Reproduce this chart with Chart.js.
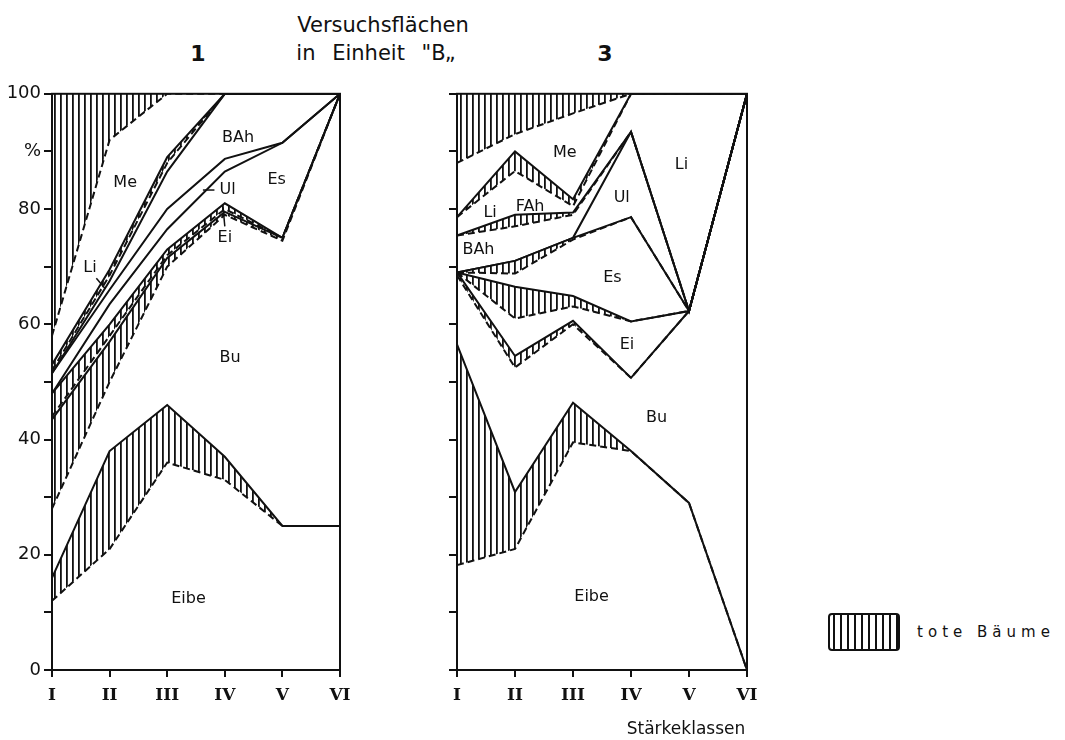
<!DOCTYPE html>
<html>
<head>
<meta charset="utf-8">
<script src="https://cdn.jsdelivr.net/npm/chart.js@4.4.1/dist/chart.umd.min.js"></script>
<style>
  html, body { margin: 0; padding: 0; background: #fff; }
  #page { position: relative; width: 1065px; height: 740px; overflow: hidden; font-family: "DejaVu Sans", sans-serif; color: #111; }
  canvas { position: absolute; }
  .txt { position: absolute; transform: translate(-50%, -50%); white-space: nowrap; }
  .legend-box { position: absolute; left: 828px; top: 613px; width: 68px; height: 34px; border: 2px solid #111; border-radius: 4px;
    background: repeating-linear-gradient(90deg, #111 0 2px, #fff 2px 7px); background-position: 3px 0; }
</style>
</head>
<body>
<div id="page">
  <div class="txt" style="left:383px; top:25px; font-size:21px;">Versuchsflächen</div>
  <div class="txt" style="left:198px; top:53px; font-size:22px; font-weight:bold;">1</div>
  <div class="txt" style="left:376px; top:53px; font-size:21px; word-spacing:10px;">in Einheit "B„</div>
  <div class="txt" style="left:605px; top:53px; font-size:22px; font-weight:bold;">3</div>
  <canvas id="panel1" width="360" height="645" style="left:0; top:80px;"></canvas>
  <canvas id="panel3" width="370" height="645" style="left:400px; top:80px;"></canvas>
  <div class="txt" style="left:686px; top:728px; font-size:17px;">Stärkeklassen</div>
  <div class="legend-box"></div>
  <div class="txt" style="left:986px; top:632px; font-size:15px; letter-spacing:5px;">tote Bäume</div>
</div>
<script>
const INK = '#111111';
const ROMAN = ['I', 'II', 'III', 'IV', 'V', 'VI'];
const TOP = [100, 100, 100, 100, 100, 100];

// Versuchsfläche 1, cumulative % (bottom to top)
const p1EibeAlive = [12, 21, 36, 33, 25, 25];
const p1EibeDead = [16, 38, 46, 37, 25, 25];
const p1BuAlive = [28, 50, 70, 79, 74.5, 100];
const p1BuDead = [43.5, 57, 71.5, 79.5, 75, 100];
const p1EiAlive = [44, 58, 72, 80, 75, 100];
const p1EiDead = [48, 60, 73, 81, 75, 100];
const p1Es = [48, 63.5, 76.5, 86.5, 91.5, 100];
const p1Ul = [51.5, 66, 80, 88.7, 91.5, 100];
const p1BAh = [51.5, 67.5, 86.5, 100, 100, 100];
const p1LiAlive = [52, 68.5, 88, 100, 100, 100];
const p1LiDead = [53, 69.5, 89, 100, 100, 100];
const p1MeAlive = [58, 92, 100, 100, 100, 100];

// Versuchsfläche 3, cumulative % (bottom to top)
const p3EibeAlive = [18.2, 21, 39.5, 38, 29, 0];
const p3EibeDead = [56.5, 30.9, 46.4, 38, 29, 0];
const p3BuAlive = [68.5, 52.5, 60, 50.7, 62.3, 100];
const p3BuDead = [69, 54.5, 60.6, 50.7, 62.3, 100];
const p3EiAlive = [69, 61, 63.1, 60.5, 62.3, 100];
const p3EiDead = [69, 66.5, 64.9, 60.5, 62.3, 100];
const p3EsAlive = [69, 68.8, 74.7, 78.6, 62.3, 100];
const p3EsDead = [69, 71, 75, 78.6, 62.3, 100];
const p3Ul = [69, 71, 75, 93.4, 62.3, 100];
const p3BAhAlive = [75.4, 77, 79, 93.4, 62.3, 100];
const p3BAhDead = [75.4, 79, 79.4, 93.4, 62.3, 100];
const p3Li = [78.6, 82, 80, 100, 100, 100];
const p3FAhAlive = [78.6, 86.6, 80.5, 100, 100, 100];
const p3FAhDead = [78.6, 90, 81.7, 100, 100, 100];
const p3MeAlive = [88, 93, 96.6, 100, 100, 100];

// region names: [text, class position, %]
const p1Labels = [
  ['Me', 1.27, 84.5], ['Li', 0.66, 69.8], ['BAh', 3.23, 92.3], ['Ul', 3.05, 83.3],
  ['Ei', 3.0, 75], ['Es', 3.9, 85], ['Bu', 3.09, 54.2], ['Eibe', 2.37, 12.4]
];
const p1Leaders = [
  [[0.77, 68], [0.92, 66.2]], [[2.62, 83.3], [2.82, 83.3]], [[3.0, 77], [2.97, 80.3]]
];
const p3Labels = [
  ['Me', 1.86, 89.7], ['Li', 0.57, 79.3], ['FAh', 1.26, 80.4], ['BAh', 0.37, 72.9],
  ['Ul', 2.84, 81.9], ['Li', 3.87, 87.7], ['Es', 2.68, 68], ['Ei', 2.93, 56.5],
  ['Bu', 3.44, 43.8], ['Eibe', 2.32, 12.7]
];

function makeHatch() {
  const c = document.createElement('canvas');
  c.width = 6; c.height = 6;
  const g = c.getContext('2d');
  g.fillStyle = '#ffffff';
  g.fillRect(0, 0, 6, 6);
  g.fillStyle = INK;
  g.fillRect(0, 0, 1.8, 6);
  return g.createPattern(c, 'repeat');
}
const hatch = makeHatch();

function ds(data, line, dead) {
  return {
    data,
    borderColor: line === 'none' ? 'rgba(0,0,0,0)' : INK,
    borderWidth: 2,
    borderDash: line === 'dash' ? [7, 4] : [],
    backgroundColor: dead ? hatch : 'rgba(0,0,0,0)',
    fill: dead ? '-1' : false,
    pointRadius: 0,
    tension: 0
  };
}

const regionPlugin = {
  id: 'regionLabels',
  afterDatasetsDraw(chart, args, opts) {
    const { ctx, chartArea: a, scales: { x, y } } = chart;
    ctx.save();
    ctx.strokeStyle = INK;
    ctx.lineWidth = 2;
    ctx.strokeRect(a.left, a.top, a.right - a.left, a.bottom - a.top);
    ctx.lineWidth = 1.5;
    (opts.leaders || []).forEach(([p, q]) => {
      ctx.beginPath();
      ctx.moveTo(x.getPixelForValue(p[0]), y.getPixelForValue(p[1]));
      ctx.lineTo(x.getPixelForValue(q[0]), y.getPixelForValue(q[1]));
      ctx.stroke();
    });
    ctx.fillStyle = INK;
    ctx.font = '16px "DejaVu Sans"';
    ctx.textAlign = 'center';
    ctx.textBaseline = 'middle';
    (opts.items || []).forEach(([t, i, v]) => ctx.fillText(t, x.getPixelForValue(i), y.getPixelForValue(v)));
    ctx.restore();
  }
};

function makePanel(id, datasets, items, leaders, axisWidth, rightPad, showLabels) {
  new Chart(document.getElementById(id), {
    type: 'line',
    data: { labels: ROMAN, datasets },
    plugins: [regionPlugin],
    options: {
      responsive: false,
      animation: false,
      layout: { padding: { top: 12, right: rightPad, left: 0, bottom: 0 } },
      plugins: {
        legend: { display: false },
        tooltip: { enabled: false },
        regionLabels: { items, leaders }
      },
      scales: {
        x: {
          afterFit: s => { s.height = 55; },
          grid: { drawOnChartArea: false, drawTicks: true, tickLength: 7, color: INK, lineWidth: 2 },
          border: { display: true, color: INK, width: 2 },
          ticks: { color: INK, padding: 8, maxRotation: 0, font: { family: 'DejaVu Serif', size: 17, weight: 'bold' } }
        },
        y: {
          min: 0, max: 100,
          afterFit: s => { s.width = axisWidth; },
          grid: { drawOnChartArea: false, drawTicks: true, tickLength: 8, color: INK, lineWidth: 2 },
          border: { display: true, color: INK, width: 2 },
          ticks: {
            stepSize: 10, autoSkip: false, color: INK, padding: 3,
            font: { family: 'DejaVu Sans', size: 18 },
            callback: v => !showLabels ? '' : (v === 90 ? '%' : (v % 20 === 0 ? v : ''))
          }
        }
      }
    }
  });
}

makePanel('panel1', [
  ds(p1EibeAlive, 'dash', false),
  ds(p1EibeDead, 'solid', true),
  ds(p1BuAlive, 'dash', false),
  ds(p1BuDead, 'solid', true),
  ds(p1EiAlive, 'dash', false),
  ds(p1EiDead, 'solid', true),
  ds(p1Es, 'solid', false),
  ds(p1Ul, 'solid', false),
  ds(p1BAh, 'solid', false),
  ds(p1LiAlive, 'dash', false),
  ds(p1LiDead, 'solid', true),
  ds(p1MeAlive, 'dash', false),
  ds(TOP, 'none', true)
], p1Labels, p1Leaders, 52, 20, true);

makePanel('panel3', [
  ds(p3EibeAlive, 'dash', false),
  ds(p3EibeDead, 'solid', true),
  ds(p3BuAlive, 'dash', false),
  ds(p3BuDead, 'solid', true),
  ds(p3EiAlive, 'dash', false),
  ds(p3EiDead, 'solid', true),
  ds(p3EsAlive, 'dash', false),
  ds(p3EsDead, 'solid', true),
  ds(p3Ul, 'solid', false),
  ds(p3BAhAlive, 'dash', false),
  ds(p3BAhDead, 'solid', true),
  ds(p3Li, 'none', false),
  ds(p3FAhAlive, 'dash', false),
  ds(p3FAhDead, 'solid', true),
  ds(p3MeAlive, 'dash', false),
  ds(TOP, 'none', true)
], p3Labels, [], 57, 23, false);
</script>
</body>
</html>
